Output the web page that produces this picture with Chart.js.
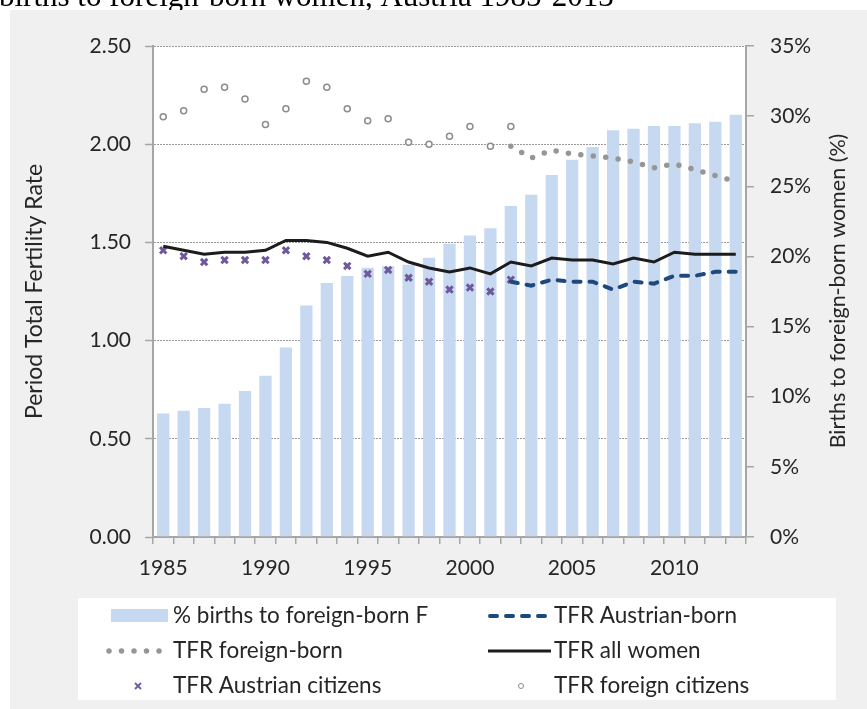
<!DOCTYPE html>
<html>
<head>
<meta charset="utf-8">
<script src="https://cdn.jsdelivr.net/npm/chart.js@4/dist/chart.umd.min.js"></script>
<style>
  html, body { margin: 0; padding: 0; background: #fff; }
  #wrap { width: 867px; height: 709px; }
</style>
</head>
<body>
<div id="wrap"><canvas id="chart" width="867" height="709"></canvas></div>
<script>
// data
const years = [1985, 1986, 1987, 1988, 1989, 1990, 1991, 1992, 1993, 1994,
  1995, 1996, 1997, 1998, 1999, 2000, 2001, 2002, 2003, 2004,
  2005, 2006, 2007, 2008, 2009, 2010, 2011, 2012, 2013];
const yearTicks = [1985, 1990, 1995, 2000, 2005, 2010];

// % of births to foreign-born women (right axis)
const pctForeignBorn = [8.8, 9.0, 9.2, 9.5, 10.4, 11.5, 13.5, 16.5, 18.1, 18.6,
  19.2, 19.3, 19.4, 19.9, 20.9, 21.5, 22.0, 23.6, 24.4, 25.8,
  26.9, 27.8, 29.0, 29.1, 29.3, 29.3, 29.5, 29.6, 30.1];

// TFR series (left axis)
const tfrAll = [1.48, 1.46, 1.44, 1.45, 1.45, 1.46, 1.51, 1.51, 1.50, 1.47,
  1.43, 1.45, 1.40, 1.37, 1.35, 1.37, 1.34, 1.40, 1.38, 1.42,
  1.41, 1.41, 1.39, 1.42, 1.40, 1.45, 1.44, 1.44, 1.44];
const tfrAustrianBorn = [null, null, null, null, null, null, null, null, null, null,
  null, null, null, null, null, null, null, 1.30, 1.28, 1.31,
  1.30, 1.30, 1.26, 1.30, 1.29, 1.33, 1.33, 1.35, 1.35];
const tfrForeignBorn = [null, null, null, null, null, null, null, null, null, null,
  null, null, null, null, null, null, null, 1.99, 1.93, 1.97,
  1.95, 1.94, 1.93, 1.91, 1.88, 1.90, 1.87, 1.84, 1.81];
const tfrAustrianCitizens = [1.46, 1.43, 1.40, 1.41, 1.41, 1.41, 1.46, 1.43, 1.41, 1.38,
  1.34, 1.36, 1.32, 1.30, 1.26, 1.27, 1.25, 1.31, null, null,
  null, null, null, null, null, null, null, null, null];
const tfrForeignCitizens = [2.14, 2.17, 2.28, 2.29, 2.23, 2.10, 2.18, 2.32, 2.29, 2.18,
  2.12, 2.13, 2.01, 2.00, 2.04, 2.09, 1.99, 2.09, null, null,
  null, null, null, null, null, null, null, null, null];

const titleText = 'births to foreign-born women, Austria 1985-2013';
const leftTitle = 'Period Total Fertility Rate';
const rightTitle = 'Births to foreign-born women (%)';

const axisGray = '#a6a6a6';
const textColor = '#262626';
const labelFont = { family: 'Lato', size: 21 };

// gray frame, white plot area, cropped caption above
const backdrop = {
  id: 'backdrop',
  beforeDraw(chart) {
    const { ctx, width, height, chartArea: a } = chart;
    ctx.save();
    ctx.fillStyle = '#fff';
    ctx.fillRect(0, 0, width, height);
    ctx.fillStyle = '#000';
    ctx.font = '31px "Liberation Serif"';
    ctx.textBaseline = 'alphabetic';
    ctx.fillText(titleText, -1, 6);
    ctx.fillStyle = '#f0f0f0';
    ctx.fillRect(10, 10, width - 10, height - 10);
    ctx.fillStyle = '#fff';
    ctx.fillRect(a.left, a.top, a.right - a.left, a.bottom - a.top);
    ctx.fillRect(78, 598, 758, 102);
    ctx.restore();
  }
};

// right axis title (bottom-to-top) and the two-column legend
const extras = {
  id: 'extras',
  afterDraw(chart) {
    const ctx = chart.ctx;
    const ds = chart.data.datasets;
    ctx.save();
    ctx.fillStyle = textColor;
    ctx.font = '21.5px Lato';
    ctx.textAlign = 'center';
    ctx.textBaseline = 'middle';
    ctx.translate(838, 291);
    ctx.rotate(-Math.PI / 2);
    ctx.fillText(rightTitle, 0, 0);
    ctx.restore();

    const cols = [111, 492];
    const rows = [616, 651, 686];
    const items = [
      { i: 5, c: 0, r: 0 }, { i: 1, c: 1, r: 0 },
      { i: 2, c: 0, r: 1 }, { i: 0, c: 1, r: 1 },
      { i: 3, c: 0, r: 2 }, { i: 4, c: 1, r: 2 }
    ];
    ctx.save();
    ctx.font = '22.5px Lato';
    ctx.textBaseline = 'middle';
    ctx.textAlign = 'left';
    items.forEach(it => {
      const d = ds[it.i];
      const x = cols[it.c], y = rows[it.r];
      ctx.save();
      if (d.type === 'bar') {
        ctx.fillStyle = d.backgroundColor;
        ctx.fillRect(x, y - 7, 57, 13);
      } else if (d.showLine === false) {
        const cx = x + 27;
        ctx.lineWidth = it.i === 3 ? 1.8 : 1;
        ctx.strokeStyle = d.pointBorderColor;
        if (d.pointStyle === 'crossRot') {
          ctx.beginPath();
          ctx.moveTo(cx - 3, y - 3); ctx.lineTo(cx + 3, y + 3);
          ctx.moveTo(cx + 3, y - 3); ctx.lineTo(cx - 3, y + 3);
          ctx.stroke();
        } else {
          ctx.fillStyle = '#fff';
          ctx.beginPath();
          ctx.arc(cx + 2, y, 2.5, 0, Math.PI * 2);
          ctx.fill(); ctx.stroke();
        }
      } else {
        ctx.strokeStyle = d.borderColor;
        ctx.lineWidth = d.borderWidth;
        ctx.lineCap = d.borderCapStyle || 'butt';
        ctx.setLineDash(d.borderDash || []);
        ctx.beginPath();
        const pad = d.borderCapStyle === 'round' ? 2 : 0;
        ctx.moveTo(x + pad - 4, y); ctx.lineTo(x + 59 - pad, y);
        ctx.stroke();
      }
      ctx.restore();
      ctx.fillStyle = textColor;
      ctx.fillText(d.label, x + 62, y);
    });
    ctx.restore();
  }
};

new Chart(document.getElementById('chart'), {
  type: 'bar',
  data: {
    labels: years,
    datasets: [
      {
        type: 'line', label: 'TFR all women', data: tfrAll, yAxisID: 'y',
        borderColor: '#1c1c1c', borderWidth: 3, pointRadius: 0, tension: 0, order: 1
      },
      {
        type: 'line', label: 'TFR Austrian-born', data: tfrAustrianBorn, yAxisID: 'y',
        borderColor: '#1f497d', borderWidth: 4, borderDash: [7, 9], borderCapStyle: 'round',
        pointRadius: 0, order: 2
      },
      {
        type: 'line', label: 'TFR foreign-born', data: tfrForeignBorn, yAxisID: 'y',
        borderColor: '#969696', borderWidth: 5.5, borderDash: [0, 12.5], borderCapStyle: 'round',
        pointRadius: 0, order: 3
      },
      {
        type: 'line', label: 'TFR Austrian citizens', data: tfrAustrianCitizens, yAxisID: 'y',
        showLine: false, pointStyle: 'crossRot', pointRadius: 4.5,
        pointBorderColor: '#70589c', pointBorderWidth: 3, order: 4
      },
      {
        type: 'line', label: 'TFR foreign citizens', data: tfrForeignCitizens, yAxisID: 'y',
        showLine: false, pointStyle: 'circle', pointRadius: 3,
        pointBorderColor: '#8c8c8c', pointBackgroundColor: '#fff', pointBorderWidth: 1.5, order: 5
      },
      {
        type: 'bar', label: '% births to foreign-born F', data: pctForeignBorn, yAxisID: 'y1',
        backgroundColor: '#c6d9f1', barPercentage: 0.6, categoryPercentage: 1, order: 10
      }
    ]
  },
  options: {
    responsive: false,
    animation: false,
    events: [],
    layout: { padding: { top: 46, left: 0, right: 0, bottom: 0 } },
    plugins: {
      legend: { display: false },
      tooltip: { enabled: false }
    },
    scales: {
      x: {
        type: 'category',
        offset: true,
        grid: { offset: true, drawOnChartArea: false, color: axisGray, tickLength: 7, lineWidth: 1.5 },
        border: { color: axisGray, width: 2 },
        ticks: {
          autoSkip: false, maxRotation: 0, minRotation: 0, padding: 12,
          font: labelFont, color: textColor,
          callback(v, i) {
            const y = years[i];
            return yearTicks.includes(y) ? String(y) : '';
          }
        },
        afterFit(s) { s.height = 172; }
      },
      y: {
        position: 'left',
        min: 0, max: 2.5,
        ticks: {
          stepSize: 0.5, padding: 14, font: labelFont, color: textColor,
          callback: v => Number(v).toFixed(2)
        },
        grid: { color: '#9a9a9a', lineWidth: 1, tickLength: 8, tickColor: axisGray, tickWidth: 1.5, tickBorderDash: [] },
        border: { color: axisGray, width: 2, dash: [2, 1] },
        title: {
          display: true, text: leftTitle, font: { family: 'Lato', size: 23 }, color: textColor,
          padding: { top: 21, bottom: 0 }
        },
        afterFit(s) { s.width = 153; }
      },
      y1: {
        position: 'right',
        min: 0, max: 35,
        ticks: {
          stepSize: 5, padding: 16, font: labelFont, color: textColor,
          callback: v => v + '%'
        },
        grid: { drawOnChartArea: false, tickLength: 8, color: axisGray, lineWidth: 1.5 },
        border: { color: axisGray, width: 2 },
        afterFit(s) { s.width = 121; }
      }
    }
  },
  plugins: [backdrop, extras]
});
</script>
</body>
</html>
